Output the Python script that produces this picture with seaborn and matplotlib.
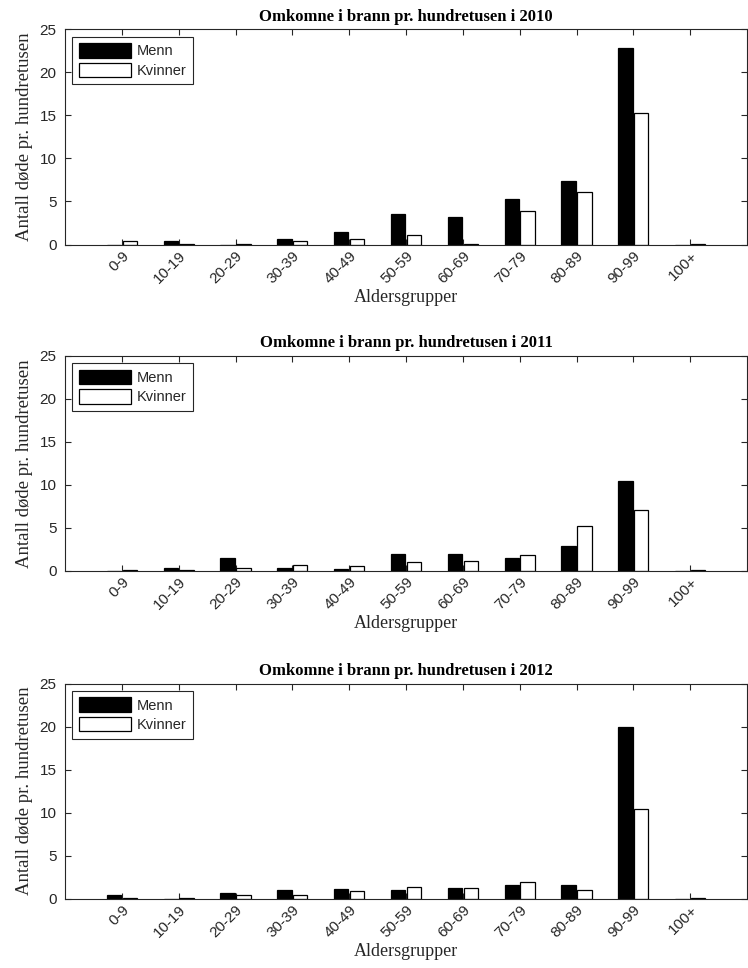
import matplotlib
matplotlib.use("Agg")
import matplotlib.pyplot as plt
import numpy as np
import pandas as pd
import seaborn as sns

# ---- data ----
age_groups = ["0-9", "10-19", "20-29", "30-39", "40-49", "50-59",
              "60-69", "70-79", "80-89", "90-99", "100+"]
years = [2010, 2011, 2012]
series_names = ["Menn", "Kvinner"]

menn_2010 = [0.0, 0.35, 0.0, 0.62, 1.43, 3.6, 3.2, 5.3, 7.33, 22.8, 0.0]
kvinner_2010 = [0.4, 0.05, 0.05, 0.35, 0.66, 1.05, 0.05, 3.84, 6.08, 15.23, 0.05]

menn_2011 = [0.0, 0.31, 1.55, 0.31, 0.27, 1.94, 1.94, 1.47, 2.9, 10.43, 0.0]
kvinner_2011 = [0.05, 0.05, 0.35, 0.66, 0.58, 1.0, 1.16, 1.86, 5.27, 7.13, 0.05]

menn_2012 = [0.43, 0.0, 0.7, 0.97, 1.16, 1.0, 1.2, 1.55, 1.55, 19.9, 0.0]
kvinner_2012 = [0.05, 0.05, 0.39, 0.39, 0.93, 1.4, 1.2, 1.94, 0.97, 10.4, 0.05]

yticks = [0, 5, 10, 15, 20, 25]
title_fmt = "Omkomne i brann pr. hundretusen i {}"
xlabel = "Aldersgrupper"
ylabel = "Antall døde pr. hundretusen"

# ---- style ----
sns.set_style("ticks")
plt.rcParams["font.family"] = ["Liberation Sans", "DejaVu Sans"]
axcol = "#262626"
plt.rcParams.update({
    "axes.edgecolor": axcol,
    "axes.linewidth": 0.8,
    "xtick.color": axcol,
    "ytick.color": axcol,
    "xtick.direction": "in",
    "ytick.direction": "in",
})
serif = ["Liberation Serif", "DejaVu Serif"]

fig = plt.figure(figsize=(7.48, 9.68), dpi=100)
W, H = 748, 968
left, right = 65, 747
tops = [29.3, 355.7, 683.5]
ax_h = 215.2

data = [(2010, menn_2010, kvinner_2010),
        (2011, menn_2011, kvinner_2011),
        (2012, menn_2012, kvinner_2012)]

for top, (year, m, k) in zip(tops, data):
    ax = fig.add_axes([left / W, 1 - (top + ax_h) / H, (right - left) / W, ax_h / H])
    df = pd.DataFrame({
        "Aldersgruppe": age_groups * 2,
        "Kjønn": [series_names[0]] * len(age_groups) + [series_names[1]] * len(age_groups),
        "Verdi": list(m) + list(k),
    })
    sns.barplot(data=df, x="Aldersgruppe", y="Verdi", hue="Kjønn",
                hue_order=series_names,
                palette={"Menn": "black", "Kvinner": "white"},
                edgecolor="black", linewidth=0.9,
                width=0.56, gap=0.1, ax=ax, legend=True, errorbar=None)
    handles, labels = ax.get_legend_handles_labels()
    if ax.get_legend() is not None:
        ax.get_legend().remove()
    leg = ax.legend(handles, labels, loc="upper left", frameon=True,
                    fancybox=False, edgecolor=axcol, framealpha=1,
                    handlelength=3.6, handleheight=1.15, labelspacing=0.3,
                    borderpad=0.45, handletextpad=0.35, borderaxespad=0.5,
                    prop={"family": ["Liberation Sans"], "size": 10.5})
    leg.get_frame().set_linewidth(0.8)

    ax.set_xlim(-1, 11)
    ax.set_ylim(0, 25)
    ax.set_yticks(yticks)
    ax.set_yticklabels([str(t) for t in yticks], fontsize=11)
    ax.tick_params(axis="both", which="both", length=4.5, width=0.8,
                   top=True, right=True)
    ax.tick_params(axis="y", pad=6)
    ax.tick_params(axis="x", pad=3)
    ax.set_xticks(range(len(age_groups)))
    ax.set_xticklabels(age_groups, rotation=45, ha="right",
                       rotation_mode="anchor", fontsize=11)
    for s in ax.spines.values():
        s.set_visible(True)
        s.set_color(axcol)
    ax.set_title(title_fmt.format(year), fontfamily=serif, fontweight="bold",
                 fontsize=12, pad=6, color="black")
    ax.set_xlabel(xlabel, fontfamily=serif, fontsize=13, labelpad=2, color="#262626")
    ax.set_ylabel(ylabel, fontfamily=serif, fontsize=13.5, labelpad=5, color="#262626")

fig.savefig("out.png", dpi=100)
